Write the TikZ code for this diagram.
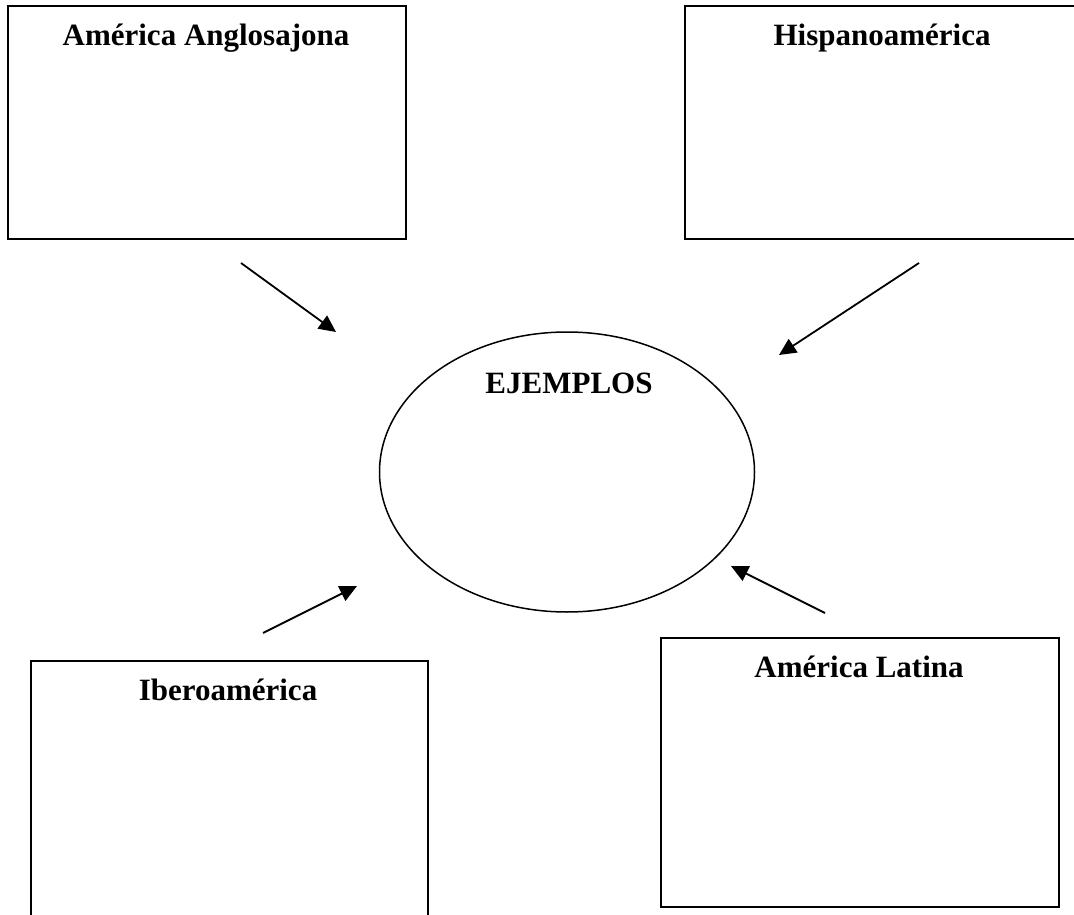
\documentclass[tikz,border=0pt]{standalone}
\usepackage{fontspec}
\setmainfont{Liberation Serif}
\usetikzlibrary{arrows.meta,shapes.geometric}
\begin{document}
\begin{tikzpicture}[x=1pt,y=-1pt,
  box/.style={draw,line width=2pt,inner sep=0pt},
  title/.style={font=\fontsize{31}{36}\selectfont\bfseries,anchor=base,inner sep=0pt},
  conn/.style={line width=1.8pt,-{Triangle[length=17pt,width=16pt]}}]
\useasboundingbox (0,0) rectangle (1074,915);
\path[fill=white] (0,0) rectangle (1074,915);
% boxes
\node[box,minimum width=398pt,minimum height=233pt,anchor=north west] (b1) at (7,5) {};
\node[box,minimum width=400pt,minimum height=233pt,anchor=north west] (b2) at (684,5) {};
\node[box,minimum width=397pt,minimum height=256pt,anchor=north west] (b3) at (30,660) {};
\node[box,minimum width=398pt,minimum height=269pt,anchor=north west] (b4) at (660,637) {};
% titles
\node[title] (t1) at (206,46) {América Anglosajona};
\node[title] (t2) at (882,46) {Hispanoamérica};
\node[title] (t3) at (228,700) {Iberoamérica};
\node[title] (t4) at (859,677) {América Latina};
% ellipse
\node[draw,line width=1.5pt,ellipse,minimum width=375pt,minimum height=280pt,inner sep=0pt] (e) at (567,472) {};
\node[title] (te) at (569,393) {EJEMPLOS};
% arrows
\coordinate (a1s) at (241,263); \coordinate (a1e) at (336,332);
\coordinate (a2s) at (919,263); \coordinate (a2e) at (779,355);
\coordinate (a3s) at (263,633); \coordinate (a3e) at (357,586);
\coordinate (a4s) at (825,613); \coordinate (a4e) at (731,566);
\draw[conn] (a1s) -- (a1e);
\draw[conn] (a2s) -- (a2e);
\draw[conn] (a3s) -- (a3e);
\draw[conn] (a4s) -- (a4e);
\end{tikzpicture}
\end{document}
